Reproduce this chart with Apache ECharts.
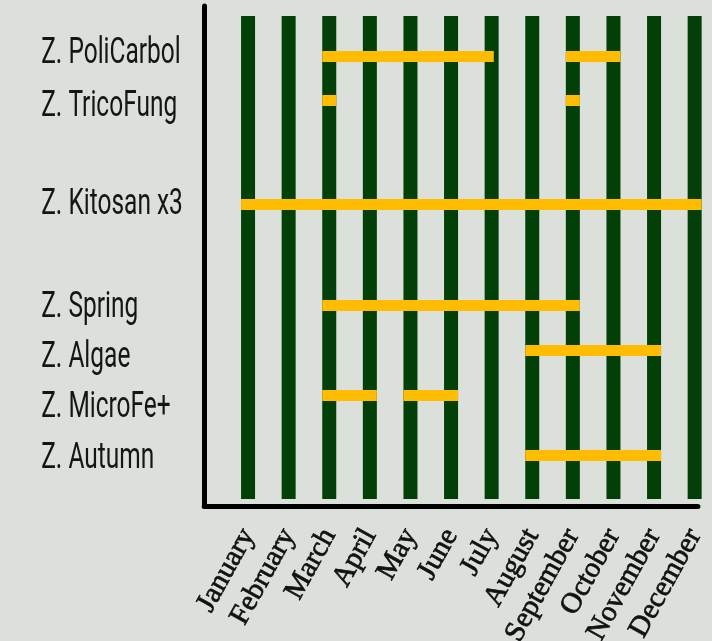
<!DOCTYPE html>
<html>
<head>
<meta charset="utf-8">
<script src="https://cdn.jsdelivr.net/npm/echarts@6/dist/echarts.min.js"></script>
<style>
html,body{margin:0;padding:0;background:#dbe0da;}
#chart{width:712px;height:641px;}
</style>
</head>
<body>
<div id="chart"></div>
<script>
// ---- data ----
const months = ['January','February','March','April','May','June','July','August','September','October','November','December'];
const monthPositions = [1,2,3,4,5,6,7,8,9,10,11,12];
const products = ['Z. PoliCarbol','Z. TricoFung','Z. Kitosan x3','Z. Spring','Z. Algae','Z. MicroFe+','Z. Autumn'];
const labelRows = [0.96, 2.02, 3.98, 6.04, 7.04, 8.04, 9.06];
const barRows = [1.01, 1.89, 3.97, 5.99, 6.89, 7.79, 8.99];
// application periods (product index, start month, end month)
const periodProduct = [0, 0, 1, 1, 2, 3, 4, 5, 5, 6];
const periodStart   = [3, 9, 3, 9, 1, 3, 8, 3, 5, 8];
const periodEnd     = [6.88, 10, 3, 9, 12, 9, 11, 4, 6, 11];
// month columns span on the row scale
const columnTop = 0.2;
const columnBottom = 9.86;

const X_MIN = -0.08, X_MAX = 12.08;

const chart = echarts.init(document.getElementById('chart'), null, {renderer:'canvas'});

const columnData = monthPositions.map(m => [m, columnTop, columnBottom]);
const periodData = periodProduct.map((p, i) => [periodStart[i], periodEnd[i], barRows[p]]);
const labelData = labelRows.map((r, i) => [X_MIN, r, i]);

const colW = 14, barH = 11;

chart.setOption({
  backgroundColor: '#dbe0da',
  animation: false,
  grid: {left: 204.2, right: 14.1, top: 6, bottom: 135, containLabel: false, outerBoundsMode: 'none'},
  xAxis: {
    type: 'value', min: X_MIN, max: X_MAX, position: 'bottom',
    splitLine: {show: false},
    axisTick: {show: false},
    axisLine: {show: true, onZero: false, lineStyle: {color: '#000', width: 5, cap: 'round'}},
    axisLabel: {
      customValues: monthPositions,
      formatter: v => months[Math.round(v) - 1] || '',
      rotate: 61, margin: 25,
      fontFamily: "'Liberation Serif', 'Times New Roman', serif",
      fontWeight: 'normal',
      fontSize: 29, color: '#111',
      textBorderColor: '#111', textBorderWidth: 0.7
    }
  },
  yAxis: {
    type: 'value', inverse: true, min: 0, max: 10, position: 'left',
    splitLine: {show: false},
    axisTick: {show: false},
    axisLine: {show: true, onZero: false, lineStyle: {color: '#000', width: 5, cap: 'round'}},
    axisLabel: {show: false}
  },
  series: [
    {
      type: 'custom', z: 2,
      data: columnData,
      encode: {x: 0, y: [1, 2]},
      renderItem: (params, api) => {
        const p1 = api.coord([api.value(0), api.value(1)]);
        const p2 = api.coord([api.value(0), api.value(2)]);
        return {type: 'rect', shape: {x: p1[0] - colW / 2, y: p1[1], width: colW, height: p2[1] - p1[1]},
                style: {fill: '#024008'}};
      }
    },
    {
      type: 'custom', z: 3,
      data: periodData,
      encode: {x: [0, 1], y: 2},
      renderItem: (params, api) => {
        const a = api.coord([api.value(0), api.value(2)]);
        const b = api.coord([api.value(1), api.value(2)]);
        return {type: 'rect', shape: {x: a[0] - colW / 2, y: a[1] - barH / 2, width: b[0] - a[0] + colW, height: barH},
                style: {fill: '#ffbc00'}};
      }
    },
    {
      type: 'custom', z: 4, clip: false,
      data: labelData,
      encode: {x: 0, y: 1},
      renderItem: (params, api) => {
        const p = api.coord([api.value(0), api.value(1)]);
        return {type: 'text', x: p[0] - 163, y: p[1], scaleX: 0.68,
                style: {text: products[api.value(2)], fill: '#151515',
                        font: "36px Roboto, 'Liberation Sans', sans-serif",
                        textAlign: 'left', textVerticalAlign: 'middle'}};
      }
    }
  ]
});
</script>
</body>
</html>
